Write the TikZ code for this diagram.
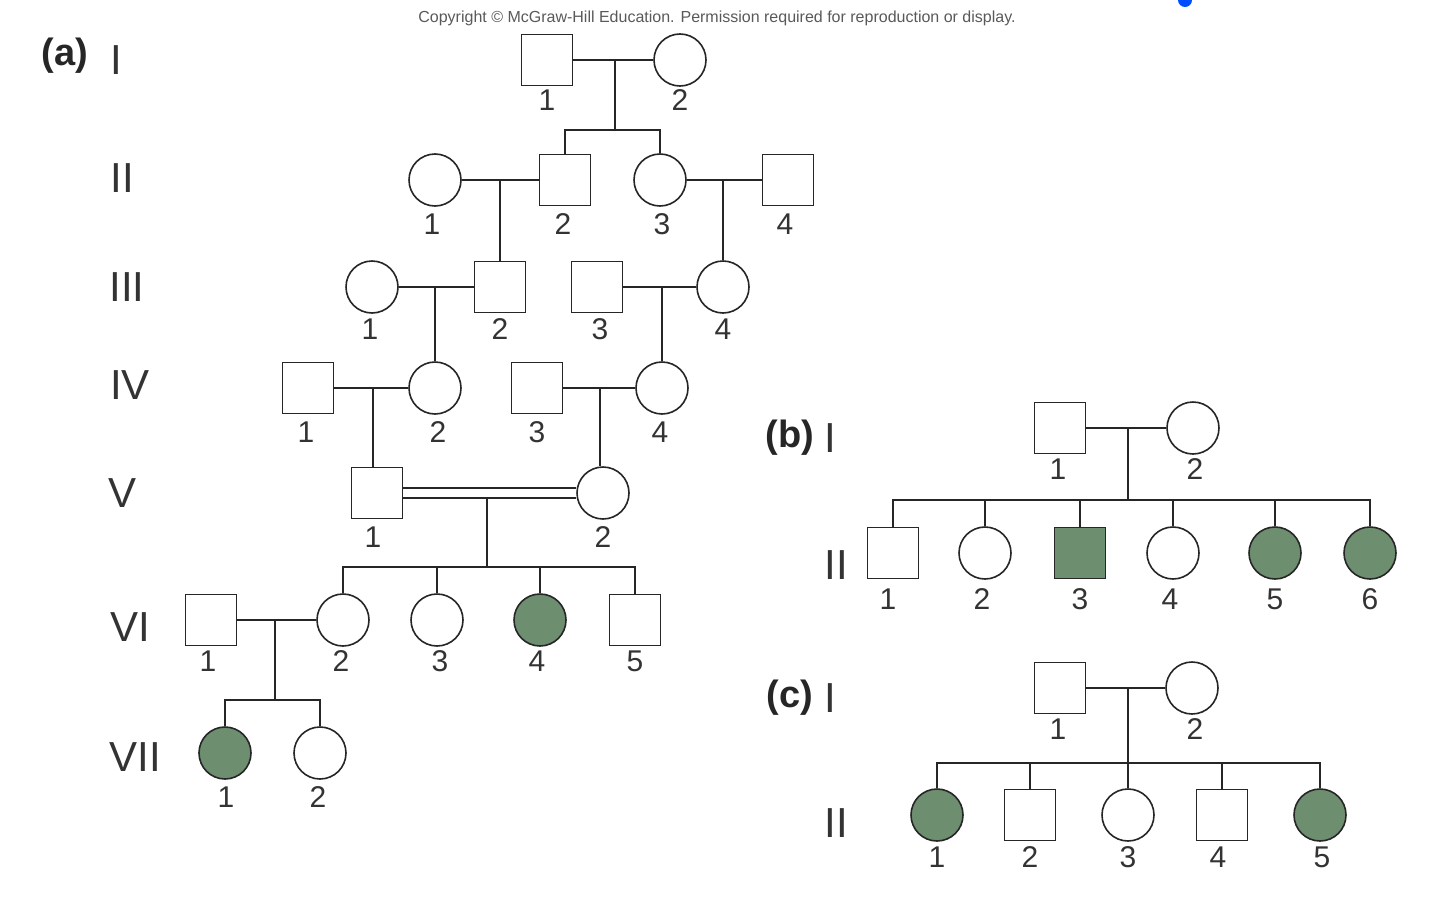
\documentclass[tikz,border=0pt]{standalone}
\usepackage{fontspec}
\setmainfont{Liberation Sans}
\begin{document}
\begin{tikzpicture}[x=1pt,y=-1pt,
  ln/.style={line width=1.6pt,draw=black!85},
  m/.style={ln,rectangle,minimum size=51pt,inner sep=0pt,fill=white},
  f/.style={ln,circle,minimum size=52pt,inner sep=0pt,fill=white},
  aff/.style={fill=affc},
  num/.style={font=\fontsize{30}{30}\selectfont,text=black!80,inner sep=0pt},
  gen/.style={font=\fontsize{42}{42}\selectfont,text=black!80,inner sep=0pt},
  part/.style={font=\bfseries\fontsize{38}{38}\selectfont,text=black!85,inner sep=0pt}]
\definecolor{affc}{HTML}{6E8E70}
\useasboundingbox (0,0) rectangle (1440,918);
\node[font=\fontsize{16}{16}\selectfont,text=black!65] (cp) at (717,18) {Copyright © McGraw-Hill Education. Permission required for reproduction or display.};
\fill[blue!70!cyan] (1185,0) circle (7pt);
% ---------- (a)
\node[part] (pa) at (65,56) {(a)};
\node[gen] (gI) at (116,60) {I};
\node[gen] (gII) at (122,178) {II};
\node[gen] (gIII) at (127,287) {III};
\node[gen] (gIV) at (130,385) {IV};
\node[gen] (gV) at (123,493) {V};
\node[gen] (gVI) at (130,627) {VI};
\node[gen] (gVII) at (135,757) {VII};
% gen I
\node[m] (aI1) at (547,60) {}; \node[f] (aI2) at (680,60) {};
\node[num] at (547,100) {1}; \node[num] at (680,100) {2};
% gen II
\node[f] (aII1) at (435,180) {}; \node[m] (aII2) at (565,180) {};
\node[f] (aII3) at (660,180) {}; \node[m] (aII4) at (788,180) {};
\node[num] at (432,224) {1}; \node[num] at (563,224) {2};
\node[num] at (662,224) {3}; \node[num] at (785,224) {4};
% gen III
\node[f] (aIII1) at (372,287) {}; \node[m] (aIII2) at (500,287) {};
\node[m] (aIII3) at (597,287) {}; \node[f] (aIII4) at (723,287) {};
\node[num] at (370,329) {1}; \node[num] at (500,329) {2};
\node[num] at (600,329) {3}; \node[num] at (723,329) {4};
% gen IV
\node[m] (aIV1) at (308,388) {}; \node[f] (aIV2) at (435,388) {};
\node[m] (aIV3) at (537,388) {}; \node[f] (aIV4) at (662,388) {};
\node[num] at (306,432) {1}; \node[num] at (438,432) {2};
\node[num] at (537,432) {3}; \node[num] at (660,432) {4};
% gen V
\node[m] (aV1) at (377,493) {}; \node[f] (aV2) at (603,493) {};
\node[num] at (373,537) {1}; \node[num] at (603,537) {2};
% gen VI
\node[m] (aVI1) at (211,620) {}; \node[f] (aVI2) at (343,620) {};
\node[f] (aVI3) at (437,620) {}; \node[f,aff] (aVI4) at (540,620) {};
\node[m] (aVI5) at (635,620) {};
\node[num] at (208,661) {1}; \node[num] at (341,661) {2};
\node[num] at (440,661) {3}; \node[num] at (537,661) {4}; \node[num] at (635,661) {5};
% gen VII
\node[f,aff] (aVII1) at (225,753) {}; \node[f] (aVII2) at (320,753) {};
\node[num] at (226,797) {1}; \node[num] at (318,797) {2};
% connectors (a)
\coordinate (c1) at (615,60); \coordinate (s1) at (615,130);
\draw[ln] (aI1) -- (aI2); \draw[ln] (c1) -- (s1);
\draw[ln] (aII2.north) |- (s1) -| (aII3.north);
\coordinate (c2) at (500,180); \draw[ln] (aII1) -- (aII2); \draw[ln] (c2) -- (aIII2.north);
\coordinate (c3) at (723,180); \draw[ln] (aII3) -- (aII4); \draw[ln] (c3) -- (aIII4.north);
\coordinate (c4) at (435,287); \draw[ln] (aIII1) -- (aIII2); \draw[ln] (c4) -- (aIV2.north);
\coordinate (c5) at (662,287); \draw[ln] (aIII3) -- (aIII4); \draw[ln] (c5) -- (aIV4.north);
\coordinate (c6) at (373,388); \draw[ln] (aIV1) -- (aIV2); \draw[ln] (c6) -- (c6|-aV1.north);
\coordinate (c7) at (600,388); \draw[ln] (aIV3) -- (aIV4); \draw[ln] (c7) -- (c7|-aV2.north);
\draw[ln] ([yshift=-5]aV1.east) -- ([yshift=-5]aV2.west);
\draw[ln] ([yshift=5]aV1.east) -- ([yshift=5]aV2.west);
\coordinate (c8) at (487,497); \coordinate (s8) at (487,567);
\draw[ln] (c8) -- (s8);
\draw[ln] (aVI2.north) |- (aVI5.north|-s8) -- (aVI5.north);
\draw[ln] (aVI3.north) -- (aVI3.north|-s8);
\draw[ln] (aVI4.north) -- (aVI4.north|-s8);
\coordinate (c9) at (275,620); \coordinate (s9) at (275,700);
\draw[ln] (aVI1) -- (aVI2); \draw[ln] (c9) -- (s9);
\draw[ln] (aVII1.north) |- (s9) -| (aVII2.north);
% ---------- (b)
\node[part] (pb) at (790,438) {(b)}; \node[gen] (bgI) at (830,438) {I};
\node[gen] (bgII) at (836,565) {II};
\node[m] (bI1) at (1060,428) {}; \node[f] (bI2) at (1193,428) {};
\node[num] at (1058,469) {1}; \node[num] at (1195,469) {2};
\node[m] (bII1) at (893,553) {}; \node[f] (bII2) at (985,553) {};
\node[m,aff] (bII3) at (1080,553) {}; \node[f] (bII4) at (1173,553) {};
\node[f,aff] (bII5) at (1275,553) {}; \node[f,aff] (bII6) at (1370,553) {};
\node[num] at (888,599) {1}; \node[num] at (982,599) {2}; \node[num] at (1080,599) {3};
\node[num] at (1170,599) {4}; \node[num] at (1275,599) {5}; \node[num] at (1370,599) {6};
\coordinate (bc) at (1128,428); \coordinate (bs) at (1128,500);
\draw[ln] (bI1) -- (bI2); \draw[ln] (bc) -- (bs);
\draw[ln] (bII1.north) |- (bs) -| (bII6.north);
\foreach \n in {bII2,bII3,bII4,bII5} \draw[ln] (\n.north) -- (\n.north|-bs);
% ---------- (c)
\node[part] (pc) at (790,698) {(c)}; \node[gen] (cgI) at (830,698) {I};
\node[gen] (cgII) at (836,823) {II};
\node[m] (cI1) at (1060,688) {}; \node[f] (cI2) at (1192,688) {};
\node[num] at (1058,729) {1}; \node[num] at (1195,729) {2};
\node[f,aff] (cII1) at (937,815) {}; \node[m] (cII2) at (1030,815) {};
\node[f] (cII3) at (1128,815) {}; \node[m] (cII4) at (1222,815) {};
\node[f,aff] (cII5) at (1320,815) {};
\node[num] at (937,857) {1}; \node[num] at (1030,857) {2}; \node[num] at (1128,857) {3};
\node[num] at (1218,857) {4}; \node[num] at (1322,857) {5};
\coordinate (cc) at (1128,688); \coordinate (cs) at (1128,763);
\draw[ln] (cI1) -- (cI2); \draw[ln] (cc) -- (cII3.north);
\draw[ln] (cII1.north) |- (cs) -| (cII5.north);
\foreach \n in {cII2,cII4} \draw[ln] (\n.north) -- (\n.north|-cs);
\end{tikzpicture}
\end{document}
